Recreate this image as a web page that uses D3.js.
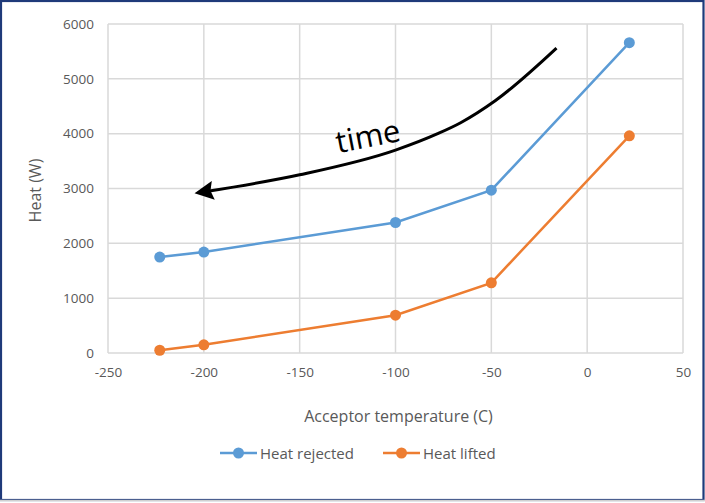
<!DOCTYPE html>
<html><head><meta charset="utf-8">
<script src="https://cdn.jsdelivr.net/npm/d3@7"></script>
<style>
html,body{margin:0;padding:0;background:#fff;}
svg{display:block;}
</style></head>
<body>
<svg id="chart" width="705" height="503"></svg>
<script>
const temps = [-223, -200, -100, -50, 22];
const heatRejected = [1750, 1840, 2380, 2970, 5660];
const heatLifted = [50, 150, 690, 1280, 3960];
const seriesNames = ["Heat rejected", "Heat lifted"];
const seriesColors = ["#5B9BD5", "#ED7D31"];
const xTicks = [-250, -200, -150, -100, -50, 0, 50];
const yTicks = [0, 1000, 2000, 3000, 4000, 5000, 6000];
// annotation arrow path (data units), from start to arrow tip
const arrowX = [-16, -48, -66, -78, -100, -150, -198];
const arrowY = [5560, 4600, 4200, 4000, 3700, 3250, 2950];

const svg = d3.select("#chart");
const W = 705, H = 503;
const m = {left: 108, right: 22, top: 24, bottom: 150};
const x = d3.scaleLinear().domain([-250, 50]).range([m.left, W - m.right]);
const y = d3.scaleLinear().domain([0, 6000]).range([H - m.bottom, m.top]);

// outer frame
svg.append("rect").attr("x", 0).attr("y", 0).attr("width", W).attr("height", H).attr("fill", "#fff");
svg.append("rect").attr("x", 1).attr("y", 1).attr("width", W - 2.5).attr("height", H - 4)
  .attr("fill", "none").attr("stroke", "#1F3A7A").attr("stroke-width", 2.2);
svg.append("line").attr("x1", 0).attr("x2", W).attr("y1", 500.5).attr("y2", 500.5)
  .attr("stroke", "#d0d0d0").attr("stroke-width", 1.5);

const font = "'Open Sans', 'Liberation Sans', sans-serif";
const grid = "#d9d9d9";

// gridlines
svg.append("g").selectAll("line").data(yTicks).join("line")
  .attr("x1", x(-250)).attr("x2", x(50)).attr("y1", d => y(d)).attr("y2", d => y(d))
  .attr("stroke", grid).attr("stroke-width", 1.5);
svg.append("g").selectAll("line").data(xTicks).join("line")
  .attr("y1", y(0)).attr("y2", y(6000)).attr("x1", d => x(d)).attr("x2", d => x(d))
  .attr("stroke", grid).attr("stroke-width", 1.5);

// axes
const xAxis = svg.append("g").attr("transform", `translate(0,${y(0)})`)
  .call(d3.axisBottom(x).tickValues(xTicks).tickSize(0).tickPadding(14).tickFormat(d => String(d)));
const yAxis = svg.append("g").attr("transform", `translate(${x(-250)},0)`)
  .call(d3.axisLeft(y).tickValues(yTicks).tickSize(0).tickPadding(14).tickFormat(d => String(d)));
[xAxis, yAxis].forEach(a => {
  a.select(".domain").remove();
  a.selectAll("text").attr("fill", "#595959").style("font-family", font).style("font-size", "13.5px");
});

// axis titles
svg.append("text").attr("x", (x(-250) + x(50)) / 2 + 3).attr("y", 422).attr("text-anchor", "middle")
  .attr("fill", "#595959").style("font-family", font).style("font-size", "16px")
  .text("Acceptor temperature (C)");
svg.append("text").attr("transform", `translate(41,${y(3000) + 2}) rotate(-90)`).attr("text-anchor", "middle")
  .attr("fill", "#595959").style("font-family", font).style("font-size", "16px")
  .text("Heat (W)");

// series
const series = [heatRejected, heatLifted];
const line = d3.line().x((d, i) => x(temps[i])).y(d => y(d));
series.forEach((vals, s) => {
  svg.append("path").datum(vals).attr("d", line).attr("fill", "none")
    .attr("stroke", seriesColors[s]).attr("stroke-width", 2.5);
  svg.append("g").selectAll("circle").data(vals).join("circle")
    .attr("cx", (d, i) => x(temps[i])).attr("cy", d => y(d)).attr("r", 5.5)
    .attr("fill", seriesColors[s]);
});

// annotation arrow
svg.append("defs").append("marker").attr("id", "ah").attr("viewBox", "0 0 10 10")
  .attr("refX", 3).attr("refY", 5).attr("markerWidth", 21).attr("markerHeight", 19)
  .attr("orient", "auto").attr("markerUnits", "userSpaceOnUse")
  .append("path").attr("d", "M0,0 L10,5 L0,10 L1.5,5 Z").attr("fill", "#000");
const arrowLine = d3.line().curve(d3.curveMonotoneX).x((d, i) => x(arrowX[i])).y(d => y(d));
svg.append("path").datum(arrowY)
  .attr("d", arrowLine).attr("fill", "none").attr("stroke", "#000").attr("stroke-width", 3)
  .attr("marker-end", "url(#ah)");

svg.append("text").attr("transform", `translate(370,147) rotate(-11)`).attr("text-anchor", "middle")
  .attr("fill", "#000").style("font-family", font).style("font-size", "31px").text("time");

// legend
const legend = svg.append("g");
const lx = [220, 383];
seriesNames.forEach((n, s) => {
  const g = legend.append("g").attr("transform", `translate(${lx[s]},453)`);
  g.append("line").attr("x1", 0).attr("x2", 37).attr("y1", 0).attr("y2", 0)
    .attr("stroke", seriesColors[s]).attr("stroke-width", 2.5);
  g.append("circle").attr("cx", 18.5).attr("cy", 0).attr("r", 5.5).attr("fill", seriesColors[s]);
  g.append("text").attr("x", 40).attr("y", 5.5).attr("fill", "#595959")
    .style("font-family", font).style("font-size", "15px").text(n);
});
</script>
</body></html>
